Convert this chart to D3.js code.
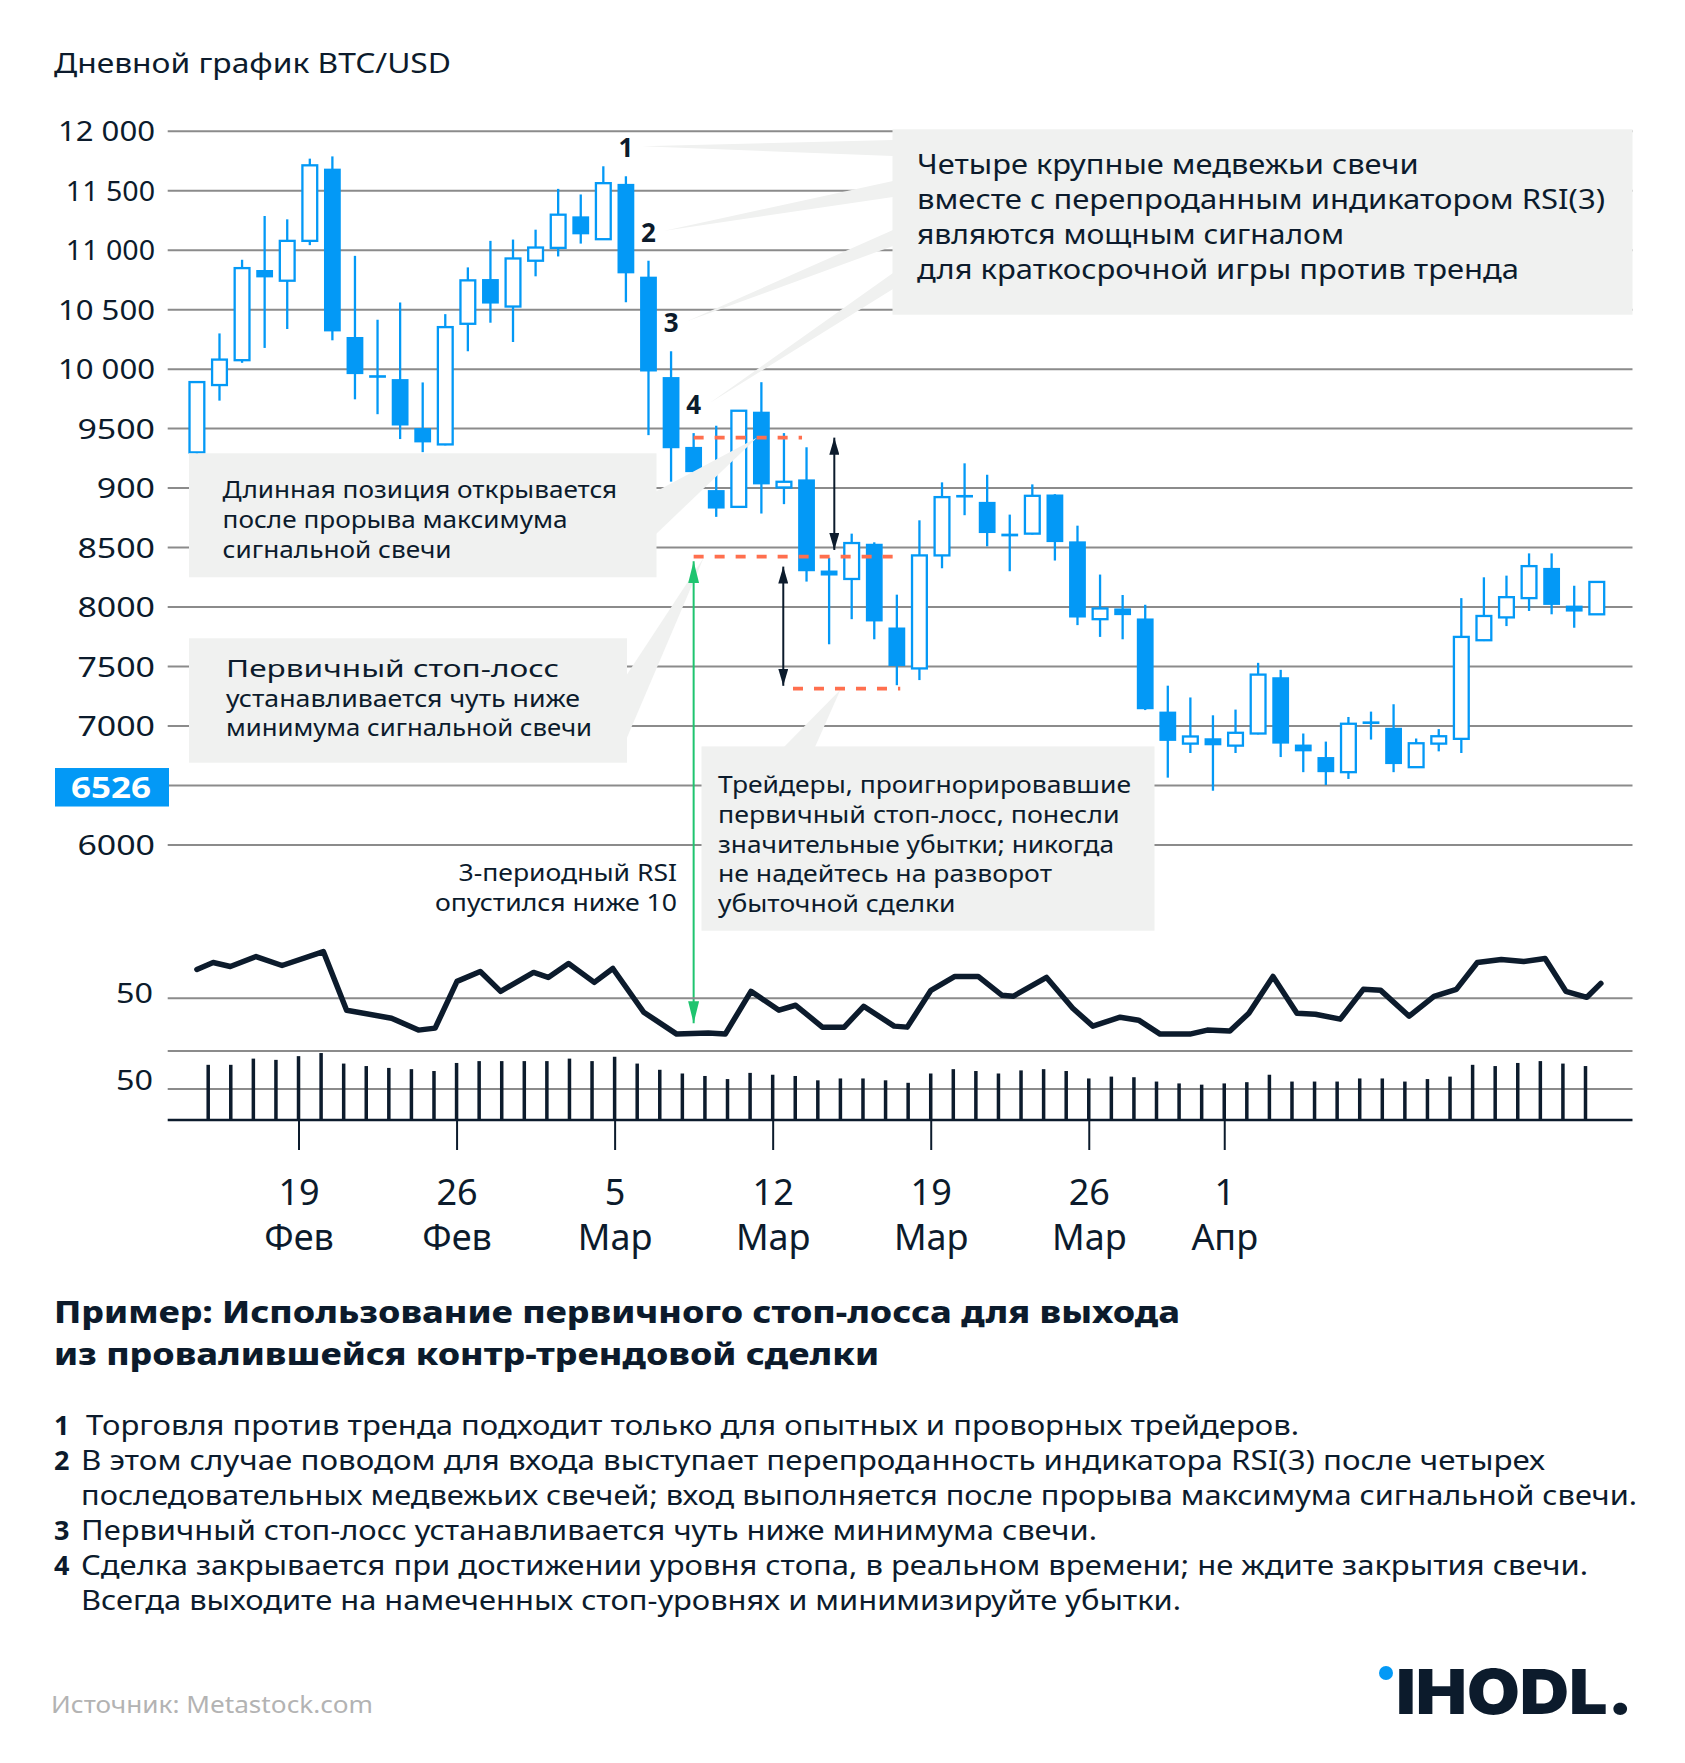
<!DOCTYPE html>
<html><head><meta charset="utf-8">
<script src="https://cdn.jsdelivr.net/npm/d3@7"></script>
<style>
html,body{margin:0;padding:0;background:#fff;}
svg{display:block;font-family:"Noto Sans",sans-serif;}
</style></head><body>
<svg id="chart" width="1685" height="1763"></svg>
<script>
// ================= DATA =================
const chartTitle = "Дневной график BTC/USD";
// daily candles, first candle = 14 Feb 2018
const candleStart = Date.UTC(2018, 1, 14);
const opens  = [9296, 9862, 10071, 10829, 10739, 11074, 11681, 10266, 9936, 9912,
  9500, 9363, 10377, 10753, 10522, 10907, 11015, 11280, 11088, 11553,
  10773, 9929, 9342, 8979, 8838, 9638, 9001, 9069, 8303, 8232,
  8528, 7824, 7480, 8430, 8925, 8880, 8613, 8613, 8942, 8548,
  7894, 7984, 7900, 7117, 6848, 6893, 6831, 6933, 7406, 6840,
  6735, 6608, 7020, 6981, 6650, 6848, 6888, 7717, 7909, 8071,
  8325, 8008, 7935];
const highs  = [9890, 10296, 10915, 11283, 11255, 11765, 11784, 10948, 10411, 10556,
  9884, 10458, 10851, 11074, 11085, 11168, 11511, 11464, 11701, 11617,
  10907, 10146, 9458, 9520, 9650, 9886, 9458, 9339, 8410, 8613,
  8540, 8100, 8725, 9044, 9204, 9108, 8773, 9027, 8945, 8680,
  8269, 8097, 8015, 7335, 7236, 7086, 7134, 7527, 7468, 6933,
  6865, 7072, 7117, 7179, 6891, 6970, 8071, 8246, 8260, 8447,
  8447, 8175, 8210];
const lows   = [9260, 9731, 10049, 10174, 10333, 11038, 10238, 9742, 9617, 9408,
  9298, 9355, 10146, 10386, 10224, 10776, 10943, 11051, 11085, 10558,
  9441, 9050, 9060, 8754, 8830, 8782, 8861, 8210, 7683, 7894,
  7725, 7339, 7382, 8322, 8768, 8506, 8297, 8605, 8387, 7844,
  7745, 7725, 7130, 6562, 6769, 6452, 6769, 6925, 6735, 6608,
  6500, 6551, 6882, 6608, 6645, 6783, 6769, 7710, 7836, 7963,
  7935, 7822, 7930];
const closes = [9887, 10076, 10845, 10767, 11074, 11709, 10313, 9954, 9932, 9522,
  9380, 10349, 10742, 10547, 10926, 11018, 11294, 11129, 11559, 10801,
  9976, 9331, 9130, 8824, 9646, 9027, 9049, 8297, 8261, 8534,
  7875, 7500, 8430, 8920, 8930, 8618, 8590, 8931, 8542, 7908,
  7984, 7928, 7137, 6871, 6908, 6834, 6939, 7428, 6848, 6783,
  6608, 7015, 7028, 6676, 6851, 6910, 7745, 7921, 8079, 8340,
  8014, 7958, 8207];

const priceTicks = [12000, 11500, 11000, 10500, 10000, 9500, 9000, 8500, 8000, 7500, 7000, 6500, 6000];
const priceTickLabels = ["12 000", "11 500", "11 000", "10 500", "10 000", "9500", "900", "8500", "8000", "7500", "7000", "6526", "6000"];
const highlightedTick = 6500;

// volume bars, first bar = 15 Feb 2018
const volumeStart = Date.UTC(2018, 1, 15);
const volumes = [89, 89, 99, 97, 103, 108, 91, 87, 84, 82, 79, 92, 95, 95, 95, 95, 99, 95, 102, 91,
  81, 75, 71, 66, 76, 73, 71, 64, 67, 67, 64, 60,
  75, 82, 79, 75, 80, 82, 79, 67, 70, 69, 62, 59, 57, 59, 61, 73, 62, 62,
  62, 67, 67, 62, 66, 70, 89, 87, 92, 95, 91, 87];
const volumeTickValue = 50;

// RSI(3) line: position in candle units, value
const rsiPositions = [0, 0.72, 1.48, 2.62, 3.77, 5.6, 6.63, 8.62, 9.81, 10.55,
  11.52, 12.55, 13.45, 14.91, 15.56, 16.46, 17.6, 18.42, 19.79, 21.25,
  22.65, 23.4, 24.54, 25.78, 26.52, 27.7, 28.67, 29.53, 30.88, 31.46,
  32.51, 33.57, 34.6, 35.66, 36.15, 37.63, 38.79, 39.68, 40.89, 41.71,
  42.66, 43.98, 44.75, 45.75, 46.59, 47.66, 48.72, 49.54, 50.64, 51.66,
  52.43, 53.69, 54.79, 55.78, 56.71, 57.77, 58.76, 59.71, 60.63, 61.56, 62.18];
const rsiValues = [79, 86, 82, 92, 83, 97, 38, 30, 18, 20,
  67, 77, 57, 76, 71, 85, 66, 80, 36, 14,
  15, 14, 57, 38, 43, 21, 21, 42, 22, 21,
  58, 72, 72, 53, 52, 71, 40, 22, 31, 28,
  14, 14, 18, 17, 35, 72, 35, 34, 29, 59,
  58, 32, 52, 59, 86, 89, 87, 90, 57, 51, 65];
const rsiTickValue = 50;

const dateTicks = [Date.UTC(2018,1,19), Date.UTC(2018,1,26), Date.UTC(2018,2,5), Date.UTC(2018,2,12),
  Date.UTC(2018,2,19), Date.UTC(2018,2,26), Date.UTC(2018,3,1)];
const dateTickDays = ["19", "26", "5", "12", "19", "26", "1"];
const dateTickMonths = ["Фев", "Фев", "Мар", "Мар", "Мар", "Мар", "Апр"];

// signal candles and trade levels
const signalLabels = ["1", "2", "3", "4"];
const signalCandles = [19, 20, 21, 22];
const entryLevel = 9420, stopLevel = 8420, lossLevel = 7310;
const entrySpan = [22, 26.8], stopSpan = [22, 31.15], lossSpan = [26.4, 31.15];
const arrowEntryStop = {pos: 28.23, from: 9420, to: 8476};
const arrowStopLoss = {pos: 25.97, from: 8336, to: 7334};
const rsiSignal = {pos: 22, price: 8380, rsi: 25};

const noteSignals = ["Четыре крупные медвежьи свечи", "вместе с перепроданным индикатором RSI(3)", "являются мощным сигналом", "для краткосрочной игры против тренда"];
const noteEntry = ["Длинная позиция открывается", "после прорыва максимума", "сигнальной свечи"];
const noteStop = ["Первичный стоп-лосс", "устанавливается чуть ниже", "минимума сигнальной свечи"];
const noteLoss = ["Трейдеры, проигнорировавшие", "первичный стоп-лосс, понесли", "значительные убытки; никогда", "не надейтесь на разворот", "убыточной сделки"];
const noteRsi = ["3-периодный RSI", "опустился ниже 10"];
const heading = ["Пример: Использование первичного стоп-лосса для выхода", "из провалившейся контр-трендовой сделки"];
const listNumbers = ["1", "2", "", "3", "4", ""];
const listLines = ["Торговля против тренда подходит только для опытных и проворных трейдеров.",
  "В этом случае поводом для входа выступает перепроданность индикатора RSI(3) после четырех",
  "последовательных медвежьих свечей; вход выполняется после прорыва максимума сигнальной свечи.",
  "Первичный стоп-лосс устанавливается чуть ниже минимума свечи.",
  "Сделка закрывается при достижении уровня стопа, в реальном времени; не ждите закрытия свечи.",
  "Всегда выходите на намеченных стоп-уровнях и минимизируйте убытки."];
const sourceText = "Источник: Metastock.com";
const logoText = "IHODL.";

// ================= STYLE =================
const navy = "#0c1b2c", blue = "#0399f6", gridC = "#8b8b8b", boxFill = "#f0f1f0",
      orange = "#ff6f4e", green = "#1fc46f", gray = "#b3b3b3";
const DAY = 864e5;
const gx0 = 167.7, gx1 = 1632.5;

const svg = d3.select("#chart");
svg.append("rect").attr("width", 1685).attr("height", 1763).attr("fill", "#fff");

// scales
const x = d3.scaleUtc().domain([Date.UTC(2018,1,15), Date.UTC(2018,3,17)]).range([208.2, 1585.5]);
const cx = i => x(new Date(candleStart + (i + 0.5) * DAY));
const y = d3.scaleLinear().domain([6000, 12000]).range([844.5, 130.7]);
const rsiY = d3.scaleLinear().domain([0, 100]).range([1048, 948.6]);
const volY = d3.scaleLinear().domain([0, 50]).range([1120, 1089]);

function txt(parent, s, xx, yy, o = {}) {
  const t = parent.append("text").attr("x", xx).attr("y", yy).text(s)
    .attr("font-size", o.size || 26).attr("fill", o.fill || navy)
    .attr("font-weight", o.weight || 400);
  if (o.family) t.attr("font-family", o.family);
  if (o.anchor) t.attr("text-anchor", o.anchor);
  if (o.len) t.attr("textLength", o.len).attr("lengthAdjust", "spacingAndGlyphs");
  return t;
}
// multi-line block as one text element
function block(parent, lines, xx, y0, dy, widths, o = {}) {
  const t = parent.append("text").attr("font-size", o.size || 24).attr("fill", navy);
  if (o.anchor) t.attr("text-anchor", o.anchor);
  lines.forEach((s, k) => {
    t.append("tspan").attr("x", xx).attr("y", y0 + k * dy).text(s)
      .attr("textLength", widths[k]).attr("lengthAdjust", "spacingAndGlyphs");
  });
  return t;
}
const numW = s => Array.from(s).reduce((a, ch) => a + (ch === "1" ? 11.5 : ch === " " ? 8 : 19.4), 0);

// title
txt(svg, chartTitle, 54, 73, {size: 27, len: 397});

// price axis + gridlines
const yAxis = d3.axisLeft(y).tickValues(priceTicks).tickSize(-(gx1 - gx0)).tickPadding(12.7)
  .tickFormat((d, i) => priceTickLabels[i]);
const gy = svg.append("g").attr("transform", `translate(${gx0},0)`).call(yAxis);
gy.select(".domain").remove();
gy.selectAll(".tick line").attr("stroke", gridC).attr("stroke-width", 2);
gy.selectAll(".tick text").attr("fill", navy).attr("font-size", 28)
  .attr("font-family", "Noto Sans").attr("dy", null).attr("y", 10)
  .attr("textLength", (d, i) => numW(priceTickLabels[i])).attr("lengthAdjust", "spacingAndGlyphs");
gy.selectAll(".tick").filter(d => d === highlightedTick).select("text").remove();
const hlIdx = priceTicks.indexOf(highlightedTick);
svg.append("rect").attr("x", 55).attr("y", y(highlightedTick) - 17).attr("width", 114).attr("height", 38.5).attr("fill", blue);
txt(svg, priceTickLabels[hlIdx], 111, y(highlightedTick) + 13, {size: 29, weight: 700, fill: "#fff", anchor: "middle", len: 80});

// candles
const candles = opens.map((o, i) => ({i, o, h: highs[i], l: lows[i], c: closes[i]}));
const gc = svg.append("g");
gc.selectAll(".wick").data(candles).join("line")
  .attr("x1", d => cx(d.i)).attr("x2", d => cx(d.i))
  .attr("y1", d => y(d.h)).attr("y2", d => y(d.l))
  .attr("stroke", blue).attr("stroke-width", 2.3);
gc.selectAll(".body").data(candles).join("rect")
  .each(function (d) {
    const r = d3.select(this);
    const top = y(Math.max(d.o, d.c)), bot = y(Math.min(d.o, d.c));
    const doji = Math.abs(d.o - d.c) < 15;
    if (d.c > d.o && !doji) {
      r.attr("x", cx(d.i) - 7.4).attr("width", 14.8).attr("y", top).attr("height", bot - top)
        .attr("fill", "#fff").attr("stroke", blue).attr("stroke-width", 2.3);
    } else {
      const hgt = Math.max(bot - top, 2.6);
      r.attr("x", cx(d.i) - 8.4).attr("width", 16.8).attr("y", (top + bot) / 2 - hgt / 2).attr("height", hgt)
        .attr("fill", blue);
    }
  });

// signal labels 1-4
signalCandles.forEach((ci, k) => {
  txt(svg, signalLabels[k], cx(ci), y(highs[ci]) - 19, {size: 26, weight: 700, anchor: "middle"});
});

// annotation boxes
const boxes = svg.append("g");
function box(x0, y0, w, h) { boxes.append("rect").attr("x", x0).attr("y", y0).attr("width", w).attr("height", h).attr("fill", boxFill); }
function wedge(pts) { boxes.append("path").attr("d", "M" + pts.map(p => p.join(",")).join("L") + "Z").attr("fill", boxFill); }

// box A wedges to labels 1..4
const baseA = [148, 189, 238, 281];
signalCandles.forEach((ci, k) => {
  const tx = cx(ci) + 16, ty = y(highs[ci]) - 30;
  wedge([[tx, ty], [893, baseA[k] - 8], [893, baseA[k] + 8]]);
});
box(892.5, 129.3, gx1 - 892.5, 185.4);
// box B (entry)
wedge([[655, 492], [655, 535], [cx(24.8), y(entryLevel)]]);
box(189, 453.3, 467.5, 124);
// box C (stop)
wedge([[626, 676], [626, 740], [cx(22.45), y(stopLevel) + 1]]);
box(189, 638.3, 438, 124.4);
// box D (loss)
wedge([[784, 747], [815, 747], [cx(28.5), y(lossLevel) + 1]]);
box(701.5, 746.4, 453, 184.3);

// dashed level lines
function dashed(span, lvl) {
  svg.append("line").attr("x1", cx(span[0])).attr("x2", cx(span[1])).attr("y1", y(lvl)).attr("y2", y(lvl))
    .attr("stroke", orange).attr("stroke-width", 3.6).attr("stroke-dasharray", "10 11");
}
dashed(entrySpan, entryLevel);
dashed(stopSpan, stopLevel);
dashed(lossSpan, lossLevel);

// markers
const defs = svg.append("defs");
function marker(id, col, w, h) {
  defs.append("marker").attr("id", id).attr("viewBox", `0 0 ${w} ${h}`).attr("refX", w).attr("refY", h / 2)
    .attr("markerWidth", w).attr("markerHeight", h).attr("markerUnits", "userSpaceOnUse")
    .attr("orient", "auto-start-reverse")
    .append("path").attr("d", `M0,0L${w},${h / 2}L0,${h}Z`).attr("fill", col);
}
marker("arrN", navy, 17, 10);
marker("arrG", green, 22, 11);
function dArrow(a) {
  svg.append("line").attr("x1", cx(a.pos)).attr("x2", cx(a.pos)).attr("y1", y(a.from)).attr("y2", y(a.to))
    .attr("stroke", navy).attr("stroke-width", 2)
    .attr("marker-start", "url(#arrN)").attr("marker-end", "url(#arrN)");
}
dArrow(arrowEntryStop);
dArrow(arrowStopLoss);
svg.append("line").attr("x1", cx(rsiSignal.pos)).attr("x2", cx(rsiSignal.pos))
  .attr("y1", y(rsiSignal.price)).attr("y2", rsiY(rsiSignal.rsi))
  .attr("stroke", green).attr("stroke-width", 2)
  .attr("marker-start", "url(#arrG)").attr("marker-end", "url(#arrG)");

// box texts (each block is one text element)
block(svg, noteSignals, 917, 174, 35, [501.6, 688, 427, 602], {size: 27});
block(svg, noteEntry, 222.6, 498, 29.8, [394.6, 345, 229], {size: 24});
block(svg, noteStop, 226, 677, 29.7, [333, 354, 366], {size: 24});
block(svg, noteLoss, 718, 793, 29.8, [413, 401.5, 396, 334, 237.5], {size: 24});
block(svg, noteRsi, 677, 880.5, 30.5, [218.4, 242], {size: 24, anchor: "end"});

// RSI panel
svg.append("line").attr("x1", gx0).attr("x2", gx1).attr("y1", rsiY(rsiTickValue)).attr("y2", rsiY(rsiTickValue))
  .attr("stroke", gridC).attr("stroke-width", 2);
txt(svg, String(rsiTickValue), 153, rsiY(rsiTickValue) + 5, {size: 28, anchor: "end", len: 37});
const rsiData = rsiPositions.map((p, i) => ({p, v: rsiValues[i]}));
svg.append("path").datum(rsiData)
  .attr("d", d3.line().x(d => cx(d.p)).y(d => rsiY(d.v)))
  .attr("fill", "none").attr("stroke", navy).attr("stroke-width", 5.5)
  .attr("stroke-linejoin", "round").attr("stroke-linecap", "round");

// volume panel
svg.append("line").attr("x1", gx0).attr("x2", gx1).attr("y1", 1051).attr("y2", 1051).attr("stroke", gridC).attr("stroke-width", 2);
svg.append("line").attr("x1", gx0).attr("x2", gx1).attr("y1", volY(volumeTickValue)).attr("y2", volY(volumeTickValue))
  .attr("stroke", gridC).attr("stroke-width", 2);
txt(svg, String(volumeTickValue), 153, volY(volumeTickValue) + 1, {size: 28, anchor: "end", len: 37});
svg.selectAll(".vol").data(volumes).join("rect")
  .attr("x", (d, i) => x(new Date(volumeStart + i * DAY)) - 1.75).attr("width", 3.5)
  .attr("y", d => volY(d)).attr("height", d => volY(0) - volY(d)).attr("fill", navy);
svg.append("line").attr("x1", gx0).attr("x2", gx1).attr("y1", volY(0)).attr("y2", volY(0)).attr("stroke", navy).attr("stroke-width", 2.6);

// date axis
const xAxis = d3.axisBottom(x).tickValues(dateTicks.map(t => new Date(t))).tickSize(30).tickFormat(() => "");
const gxA = svg.append("g").attr("transform", `translate(0,${volY(0)})`).call(xAxis);
gxA.select(".domain").remove();
gxA.selectAll(".tick line").attr("stroke", navy).attr("stroke-width", 2);
gxA.selectAll(".tick text").remove();
gxA.selectAll(".tick").each(function (d, i) {
  const t = d3.select(this).append("text").attr("text-anchor", "middle").attr("fill", navy)
    .attr("font-size", 36).attr("font-family", "Noto Sans");
  t.append("tspan").attr("x", 0).attr("y", 85).text(dateTickDays[i]);
  t.append("tspan").attr("x", 0).attr("y", 130).text(dateTickMonths[i]);
});

// heading
block(svg, heading, 54, 1323, 42, [1126, 825], {size: 31}).attr("font-weight", 800);

// numbered list
const lX = [86, 81, 81, 81, 81, 81];
const lW = [1213, 1464, 1556, 1016, 1507, 1100];
listLines.forEach((s, k) => {
  const yy = 1435 + k * 35;
  if (listNumbers[k]) txt(svg, listNumbers[k], 54, yy, {size: 27, weight: 700});
  txt(svg, s, lX[k], yy, {size: 27, len: lW[k]});
});

// source + logo
txt(svg, sourceText, 51, 1713, {size: 23, fill: gray, len: 322});
svg.append("circle").attr("cx", 1386).attr("cy", 1673).attr("r", 7).attr("fill", blue);
txt(svg, logoText, 1396, 1714, {size: 62, weight: 900, family: "Inter", len: 237});
</script>
</body></html>
